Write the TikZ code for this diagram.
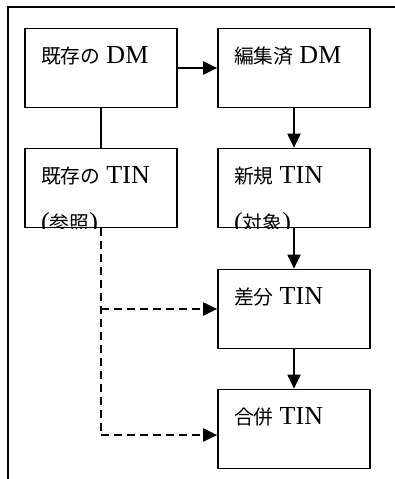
\documentclass[tikz,border=0pt]{standalone}
\usepackage{fontspec}
\setmainfont{Liberation Serif}
\newfontfamily\cjk{Noto Sans CJK JP}[Scale=0.76]
\newcommand\jsp{\hspace{6pt}}
\usetikzlibrary{arrows.meta}
\begin{document}
\begin{tikzpicture}[x=1pt,y=-1pt,
  box/.style={draw=black,line width=1.7pt,minimum width=152pt,minimum height=79pt,inner sep=0pt},
  lbl/.style={anchor=base west,inner sep=0pt,font=\fontsize{26}{30}\selectfont},
  conn/.style={line width=2pt},
  arr/.style={line width=2pt,-{Triangle[length=14pt,width=13pt]}},
  darr/.style={line width=2pt,dash pattern=on 8pt off 5pt,-{Triangle[length=14pt,width=13pt]}},
  dline/.style={line width=2pt,dash pattern=on 8pt off 5pt}]
\useasboundingbox (0,0) rectangle (395,479);
\draw[line width=1.3pt] (395,7) -- (8,7) -- (8,479);
% boxes
\node[box] (A) at (101,68) {};
\node[box] (B) at (294,68) {};
\node[box] (C) at (101,188) {};
\node[box] (D) at (294,188) {};
\node[box] (E) at (294,309) {};
\node[box] (F) at (294,429) {};
% labels
\node[lbl] (tA) at (41,63) {{\cjk 既存の}\jsp DM};
\node[lbl] (tB) at (234,63) {{\cjk 編集済}\jsp DM};
\node[lbl] (tC) at (41,183) {{\cjk 既存の}\jsp TIN};
\node[lbl] (tD) at (234,183) {{\cjk 新規}\jsp TIN};
\begin{scope}
  \clip (C.south west) rectangle (C.north east);
  \node[lbl] (tC2) at (41,230) {({\cjk 参照})};
\end{scope}
\begin{scope}
  \clip (D.south west) rectangle (D.north east);
  \node[lbl] (tD2) at (234,230) {({\cjk 対象})};
\end{scope}
\node[lbl] (tE) at (234,304) {{\cjk 差分}\jsp TIN};
\node[lbl] (tF) at (234,424) {{\cjk 合併}\jsp TIN};
% connectors
\draw[arr] (A.east) -- (B.west);
\draw[conn] (A.south) -- (C.north);
\draw[arr] (B.south) -- (D.north);
\draw[arr] (D.south) -- (E.north);
\draw[arr] (E.south) -- (F.north);
\coordinate (fin) at ([yshift=-6pt]F.west);
\coordinate (j1) at (C.south |- E.west);
\coordinate (j2) at (C.south |- fin);
\draw[dline] (C.south) -- (j2);
\draw[darr] (j1) -- (E.west);
\draw[darr] (j2) -- (fin);
\end{tikzpicture}
\end{document}
